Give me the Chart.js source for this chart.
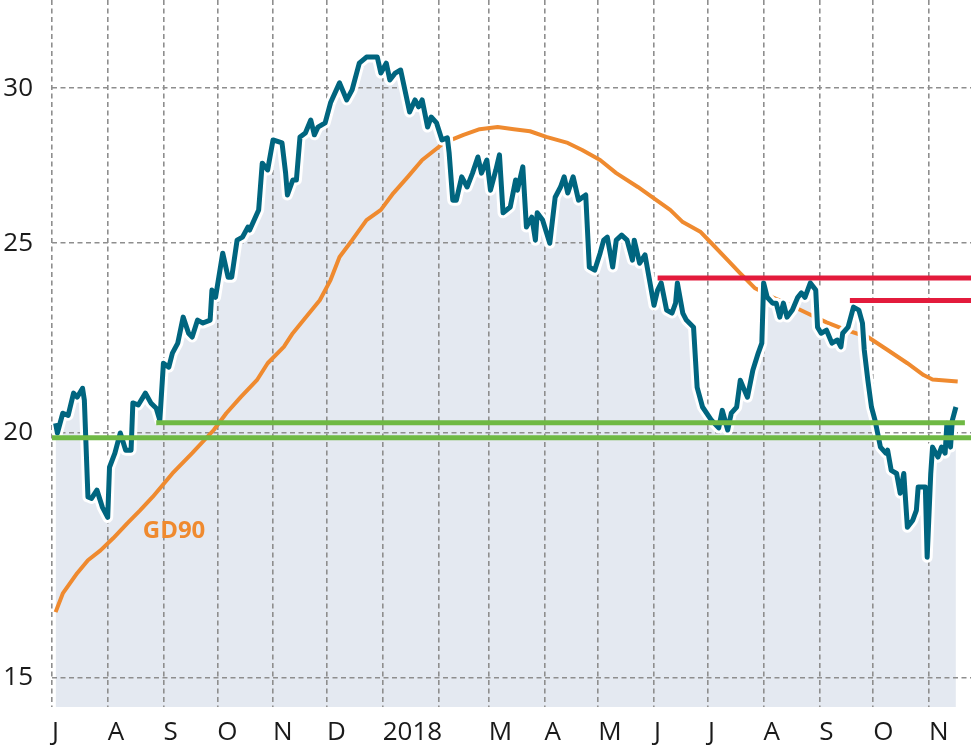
<!DOCTYPE html>
<html>
<head>
<meta charset="utf-8">
<script src="https://cdn.jsdelivr.net/npm/chart.js@4/dist/chart.umd.min.js"></script>
<style>
  body { margin: 0; background: #fff; }
  canvas { display: block; }
</style>
</head>
<body>
<canvas id="chart" width="971" height="750"></canvas>
<script>
// x values are days counted from 1 July 2017
let monthStarts = ['2017-07-01','2017-08-01','2017-09-01','2017-10-01','2017-11-01','2017-12-01','2018-01-01','2018-02-01','2018-03-01','2018-04-01','2018-05-01','2018-06-01','2018-07-01','2018-08-01','2018-09-01','2018-10-01','2018-11-01']
let monthLabels = ['J','A','S','O','N','D','2018','','M','A','M','J','J','A','S','O','N']
let yTicks = [15, 20, 25, 30]

let priceDays = [2,3,6,9,12,14,17,18,20,22,25,28,31,32,35,38,41,44,45,48,52,55,58,60,62,65,67,70,73,76,78,81,84,88,89,91,95,98,100,103,106,109,110,115,117,120,123,128,130,131,134,136,138,141,144,146,148,152,155,
  160,164,167,171,175,181,183,186,188,191,194,196,199,202,204,206,209,211,214,217,220,221,223,225,228,231,234,237,239,242,244,247,249,251,255,258,259,262,264,267,269,270,273,277,280,283,285,287,290,293,297,299,302,305,307,309,312,314,317,320,323,324,327,330,333,
  335,337,339,342,345,347,348,351,353,357,359,362,367,371,373,376,378,381,383,386,387,390,393,395,396,398,401,403,405,407,409,412,415,417,419,422,425,426,428,431,434,437,439,440,443,446,449,451,452,454,456,458,461,464,465,467,470,472,474,476,479,481,482,486,487,489,490,493,495,497,498,500,501,503]
let price = [20.23,20.00,20.47,20.42,20.96,20.86,21.08,20.79,18.55,18.52,18.70,18.33,18.11,19.21,19.53,20.00,19.60,19.60,20.72,20.67,20.96,20.72,20.59,20.30,21.71,21.61,21.97,22.23,22.92,22.49,22.39,22.84,22.76,22.84,23.66,23.46,24.71,24.02,24.02,25.09,25.18,25.48,25.39,26.00,27.47,27.25,28.23,28.13,27.15,26.46,26.93,26.93,28.33,28.46,28.90,28.40,28.66,28.80,29.49,
  30.19,29.59,29.94,30.90,31.12,31.12,30.54,30.90,30.29,30.54,30.65,30.05,29.17,29.59,29.35,29.59,28.66,29.00,28.80,28.23,28.30,27.80,26.30,26.30,27.03,26.71,27.15,27.67,27.15,27.57,26.61,27.25,27.74,25.91,26.09,26.93,26.61,27.35,25.48,25.78,25.09,25.91,25.69,25.00,26.39,26.71,27.03,26.52,27.03,26.30,26.46,24.31,24.22,24.71,25.09,25.18,24.31,25.09,25.24,25.09,24.51,25.09,24.42,24.66,23.80,
  23.24,23.66,23.86,23.11,23.03,23.30,23.86,23.03,22.84,22.65,21.10,20.62,20.30,20.12,20.54,20.07,20.47,20.62,21.28,20.96,20.86,21.53,21.97,22.23,23.86,23.46,23.30,23.30,22.92,23.30,22.92,23.11,23.46,23.58,23.46,23.86,23.66,22.65,22.49,22.57,22.23,22.31,22.13,22.49,22.65,23.19,23.11,22.76,22.05,21.28,20.62,20.30,19.67,19.53,19.60,19.14,19.07,18.63,19.07,17.90,18.05,18.26,18.77,18.77,17.28,19.07,19.67,19.44,19.67,19.53,20.23,19.67,20.30,20.62]

// GD90 = 90 day moving average
let gdDays = [2,6,14,20,27,34,42,49,56,67,78,90,97,105,114,120,129,134,140,149,155,160,167,175,183,190,198,206,218,229,238,248,257,266,275,287,295,305,314,326,334,344,351,361,367,376,383,391,401,411,420,431,442,454,465,476,485,490,504]
let gd90 = [16.20,16.56,16.96,17.22,17.42,17.67,17.99,18.26,18.55,19.07,19.53,20.07,20.47,20.86,21.28,21.71,22.13,22.49,22.84,23.38,23.94,24.60,25.09,25.69,26.00,26.52,27.03,27.57,28.13,28.40,28.59,28.66,28.59,28.52,28.33,28.13,27.90,27.57,27.15,26.71,26.39,26.00,25.63,25.33,25.00,24.51,24.13,23.72,23.46,23.24,23.03,22.78,22.57,22.39,22.05,21.71,21.41,21.30,21.25]

// support (green) and resistance (red) levels: [from day, to day, level]
let supportHigh = [58, 508, 20.24]
let supportLow = [0, 512, 19.89]
let resistHigh = [337, 512, 24.0]
let resistLow = [444, 512, 23.37]

let gdLabel = { text: 'GD90', day: 50.5, value: 17.81 }

let teal = '#00657f'
let orange = '#ef8a2f'
let red = '#e31b3c'
let green = '#6fb944'
let fillColor = '#e4e9f1'

function dayOf(s) {
  return (Date.parse(s) - Date.parse('2017-07-01')) / 86400000
}

function toPoints(xs, ys) {
  return xs.map((d, i) => ({ x: d, y: ys[i] }))
}

function level(l, color) {
  return {
    data: [{ x: l[0], y: l[2] }, { x: l[1], y: l[2] }],
    borderColor: color,
    borderWidth: 5,
    pointRadius: 0,
    fill: false
  }
}

// no extra room for the first/last tick labels, the plot fills the canvas
function noPadding(s) {
  s.paddingTop = 0
  s.paddingBottom = 0
  s.paddingLeft = 0
  s.paddingRight = 0
}

let monthDays = monthStarts.map(dayOf)
let pricePts = toPoints(priceDays, price)

let gdLabelPlugin = {
  id: 'gdLabel',
  afterDatasetsDraw(chart) {
    let ctx = chart.ctx
    let x = chart.scales.x, y = chart.scales.y
    ctx.save()
    ctx.font = 'bold 24px "Open Sans"'
    ctx.fillStyle = orange
    ctx.textBaseline = 'middle'
    ctx.fillText(gdLabel.text, x.getPixelForValue(gdLabel.day), y.getPixelForValue(gdLabel.value))
    ctx.restore()
  }
}

let ctx = document.getElementById('chart').getContext('2d')
let chart = new Chart(ctx, {
  type: 'line',
  data: {
    datasets: [
      level(supportHigh, green),
      level(supportLow, green),
      level(resistHigh, red),
      level(resistLow, red),
      { data: pricePts, borderColor: teal, borderWidth: 5, pointRadius: 0, fill: false, borderJoinStyle: 'round' },
      // white halo round the price line, carries the area fill
      { data: pricePts, borderColor: '#fff', borderWidth: 11, pointRadius: 0, fill: 'start', backgroundColor: fillColor, borderJoinStyle: 'round' },
      { data: toPoints(gdDays, gd90), borderColor: orange, borderWidth: 4, pointRadius: 0, fill: false, borderJoinStyle: 'round' }
    ]
  },
  options: {
    responsive: false,
    animation: false,
    layout: { padding: 0 },
    plugins: {
      legend: { display: false },
      tooltip: { enabled: false },
      filler: { drawTime: 'beforeDraw' }
    },
    scales: {
      x: {
        type: 'linear',
        min: 0,
        max: 511.4,
        afterBuildTicks: s => { s.ticks = monthDays.map(v => ({ value: v })) },
        afterFit: s => { s.height = 43; noPadding(s) },
        grid: { color: '#8e8e8e', lineWidth: 1.6, drawTicks: false },
        border: { display: false, dash: [5, 3.5] },
        ticks: {
          autoSkip: false,
          maxRotation: 0,
          align: 'start',
          padding: 10,
          color: '#1a1a1a',
          font: { family: 'Open Sans', size: 26 },
          callback: (v, i) => monthLabels[i]
        }
      },
      y: {
        type: 'logarithmic',
        min: 14.49,
        max: 33.28,
        afterBuildTicks: s => { s.ticks = yTicks.map(v => ({ value: v })) },
        afterFit: s => { s.width = 52; noPadding(s) },
        grid: { color: '#8e8e8e', lineWidth: 1.6, drawTicks: false },
        border: { display: false, dash: [5, 3.5] },
        ticks: {
          padding: 19,
          color: '#1a1a1a',
          font: { family: 'Open Sans', size: 26 },
          callback: v => String(v)
        }
      }
    }
  },
  plugins: [gdLabelPlugin]
})
</script>
</body>
</html>
